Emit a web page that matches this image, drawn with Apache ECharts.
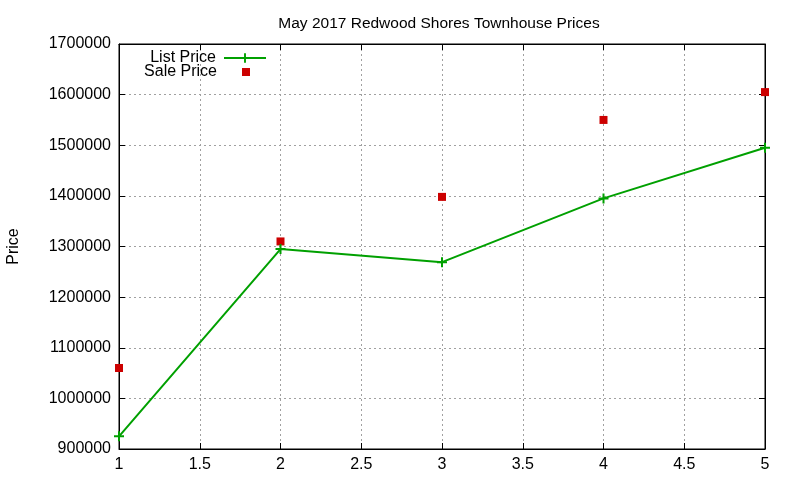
<!DOCTYPE html>
<html>
<head>
<meta charset="utf-8">
<script src="https://cdn.jsdelivr.net/npm/echarts@6/dist/echarts.min.js"></script>
<style>html,body{margin:0;padding:0;background:#fff}#c{width:800px;height:480px}</style>
</head>
<body>
<div id="c"></div>
<script>
const xValues = [1, 2, 3, 4, 5];
const listPrice = [925000, 1295000, 1269000, 1395000, 1495000];
const salePrice = [1060000, 1310000, 1398000, 1550000, 1605000];
const xTicks = {min: 1, max: 5, interval: 0.5};
const yTicks = {min: 900000, max: 1700000, interval: 100000};

const FONT = 'Liberation Sans';
const chart = echarts.init(document.getElementById('c'), null, {renderer: 'canvas'});
const plus = 'path://M4,0H6V4H10V6H6V10H4V6H0V4H4Z';
const gridLine = {show: true, lineStyle: {color: '#a0a0a0', type: [2, 3], width: 1}};
const mirror = {
  axisLine: {show: true, lineStyle: {color: '#000', width: 1}},
  axisTick: {show: true, inside: true, length: 6, lineStyle: {color: '#000'}},
  axisLabel: {show: false},
  splitLine: {show: false}
};
chart.setOption({
  backgroundColor: '#fff',
  animation: false,
  title: {
    text: 'May 2017 Redwood Shores Townhouse Prices',
    left: 434, top: 11, textAlign: 'center',
    textStyle: {fontFamily: FONT, fontSize: 15.5, fontWeight: 'normal', color: '#000'}
  },
  legend: [
    {
      data: ['List Price'], orient: 'vertical', right: 533, top: 50, padding: 0,
      align: 'right', itemWidth: 42, itemHeight: 12, itemGap: 0,
      textStyle: {fontFamily: FONT, fontSize: 16, color: '#000', padding: [0, 3, 0, 0]}
    },
    {
      data: ['Sale Price'], orient: 'vertical', right: 550, top: 64, padding: 0,
      align: 'right', itemWidth: 8, itemHeight: 8, itemGap: 0,
      textStyle: {fontFamily: FONT, fontSize: 16, color: '#000', padding: [0, 20, 0, 0]}
    }
  ],
  grid: {left: 119, right: 35, top: 44, bottom: 31, show: true, borderColor: '#000', borderWidth: 1,
         containLabel: false, outerBoundsMode: 'none'},
  xAxis: [
    {
      type: 'value', min: xTicks.min, max: xTicks.max, interval: xTicks.interval,
      axisLine: {show: true, lineStyle: {color: '#000', width: 1}},
      axisTick: {show: true, inside: true, length: 6, lineStyle: {color: '#000'}},
      axisLabel: {fontFamily: FONT, fontSize: 16, color: '#000', margin: 8},
      splitLine: gridLine
    },
    Object.assign({type: 'value', position: 'top', min: xTicks.min, max: xTicks.max, interval: xTicks.interval}, mirror)
  ],
  yAxis: [
    {
      type: 'value', min: yTicks.min, max: yTicks.max, interval: yTicks.interval,
      name: 'Price', nameLocation: 'middle', nameGap: 97, nameRotate: 90,
      nameTextStyle: {fontFamily: FONT, fontSize: 16, color: '#000'},
      axisLine: {show: true, lineStyle: {color: '#000', width: 1}},
      axisTick: {show: true, inside: true, length: 6, lineStyle: {color: '#000'}},
      axisLabel: {fontFamily: FONT, fontSize: 16, color: '#000', margin: 8, formatter: v => String(v)},
      splitLine: gridLine
    },
    Object.assign({type: 'value', position: 'right', min: yTicks.min, max: yTicks.max, interval: yTicks.interval}, mirror)
  ],
  series: [
    {
      name: 'List Price', type: 'line',
      data: xValues.map((x, i) => [x, listPrice[i]]),
      symbol: plus, symbolSize: 10, showAllSymbol: true,
      lineStyle: {color: '#00a000', width: 2},
      itemStyle: {color: '#00a000'}
    },
    {
      name: 'Sale Price', type: 'scatter',
      data: xValues.map((x, i) => [x, salePrice[i]]),
      symbol: 'rect', symbolSize: 8,
      itemStyle: {color: '#cc0000', opacity: 1}
    }
  ]
});
</script>
</body>
</html>
